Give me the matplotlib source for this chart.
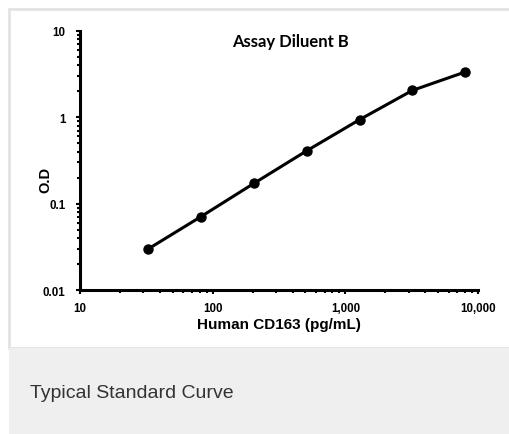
import matplotlib.pyplot as plt
from matplotlib.patches import Rectangle
from matplotlib.ticker import FixedLocator, FixedFormatter, LogLocator, NullFormatter

conc = [32.8, 81.9, 204.8, 512, 1280, 3200, 8000]
od = [0.030, 0.071, 0.172, 0.41, 0.94, 2.05, 3.35]

xticks = [10, 100, 1000, 10000]
xlabels = ["10", "100", "1,000", "10,000"]
yticks = [0.01, 0.1, 1, 10]
ylabels = ["0.01", "0.1", "1", "10"]

W, H = 510, 435
fig = plt.figure(figsize=(W / 100, H / 100), dpi=100)
fig.patch.set_facecolor("white")

# card frame + caption band
fig.patches.append(Rectangle((9 / W, 86 / H), 1.1, 1 - 10 / H - 86 / H,
                             transform=fig.transFigure, facecolor="white",
                             edgecolor="#e2e2e2", linewidth=2, zorder=-2))
fig.patches.append(Rectangle((9 / W, -0.05), 1.1, 86 / H + 0.05,
                             transform=fig.transFigure, facecolor="#eeefee",
                             edgecolor="none", zorder=-1))
fig.text(30 / W, 1 - 392 / H, "Typical Standard Curve", fontsize=14,
         family="Liberation Sans", color="#333333", va="center_baseline",
         ha="left")

ax = fig.add_axes([80 / W, 1 - 291 / H, (478 - 80) / W, (291 - 32) / H])
ax.set_facecolor("none")
ax.plot(conc, od, color="black", linewidth=2.2, marker="o", markersize=6.5,
        solid_capstyle="round", clip_on=False)
ax.set_xscale("log")
ax.set_yscale("log")
ax.set_xlim(10, 10000)
ax.set_ylim(0.01, 10)

for s in ["top", "right"]:
    ax.spines[s].set_visible(False)
for s in ["left", "bottom"]:
    ax.spines[s].set_linewidth(2.2)

ax.xaxis.set_major_locator(FixedLocator(xticks))
ax.xaxis.set_major_formatter(FixedFormatter(xlabels))
ax.yaxis.set_major_locator(FixedLocator(yticks))
ax.yaxis.set_major_formatter(FixedFormatter(ylabels))
ax.xaxis.set_minor_locator(LogLocator(base=10, subs=range(2, 10)))
ax.yaxis.set_minor_locator(LogLocator(base=10, subs=range(2, 10)))
ax.xaxis.set_minor_formatter(NullFormatter())
ax.yaxis.set_minor_formatter(NullFormatter())
ax.tick_params(which="major", direction="out", length=3, width=1.5,
               labelsize=8.3)
ax.tick_params(axis="x", which="major", pad=6)
ax.tick_params(axis="y", which="major", pad=7.5)
ax.tick_params(which="minor", direction="out", length=2, width=1.5)
for lab in ax.get_xticklabels() + ax.get_yticklabels():
    lab.set_fontweight("bold")
    lab.set_family("Liberation Sans")

ax.set_xlabel("Human CD163 (pg/mL)", fontsize=11, fontweight="bold",
              family="Liberation Sans")
ax.xaxis.set_label_coords(0.5, -(325 - 291) / 259)
ax.xaxis.label.set_va("center")
ax.set_ylabel("O.D", fontsize=10.5, fontweight="bold",
              family="Liberation Sans")
ax.yaxis.set_label_coords((45 - 80) / 398, (291 - 180) / 259)
ax.yaxis.label.set_va("center")
ax.text(0.53, 0.96, "Assay Diluent B", transform=ax.transAxes, ha="center",
        va="center", fontsize=12, fontweight="bold", family="Lato")

fig.savefig("out.png", dpi=100)
